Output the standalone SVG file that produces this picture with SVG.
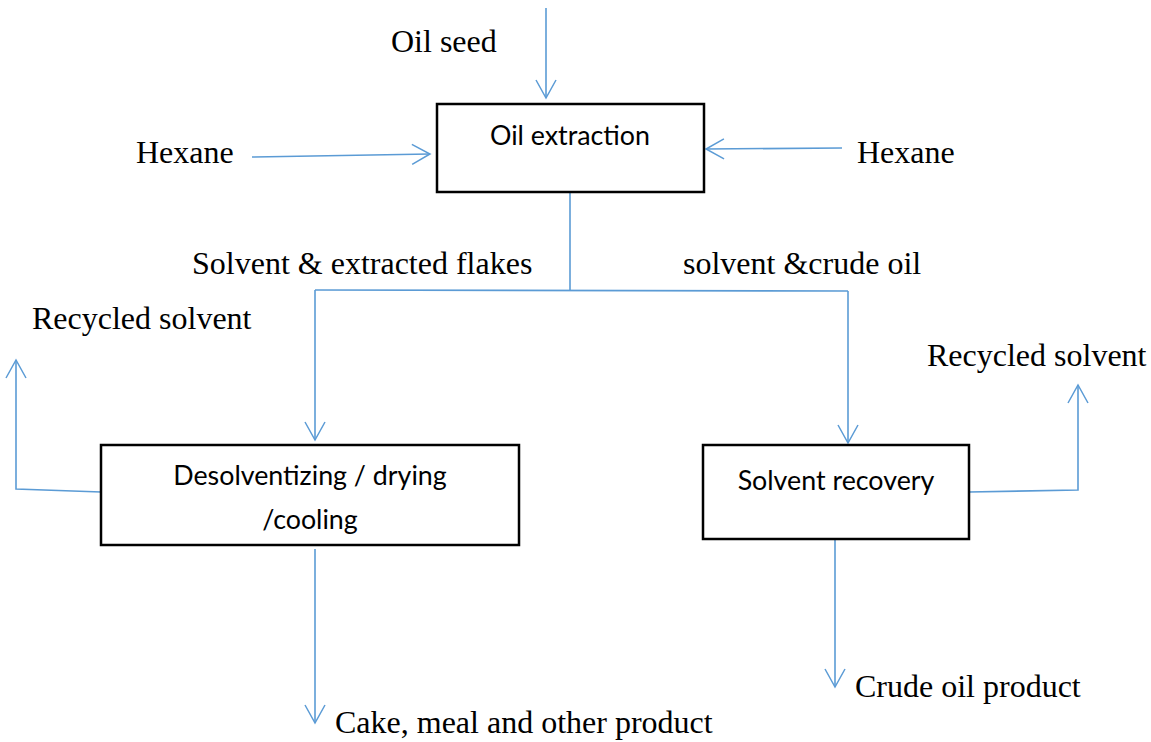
<svg xmlns="http://www.w3.org/2000/svg" width="1151" height="742" viewBox="0 0 1151 742">
<defs>
<marker id="arr" markerWidth="24" markerHeight="24" refX="20" refY="12" orient="auto" markerUnits="userSpaceOnUse">
<path d="M2,2 L20,12 L2,22" fill="none" stroke="#5B9BD5" stroke-width="1.5"/>
</marker>
<style>
.lbl{font-family:"Liberation Serif","Times New Roman",serif;font-size:32px;fill:#000}
.box{fill:#fff;stroke:#000;stroke-width:2.5}
.btx{font-family:Lato,"Liberation Sans",sans-serif;font-size:26.8px;fill:#000;text-anchor:middle}
.ln{fill:none;stroke:#5B9BD5;stroke-width:1.6}
</style>
</defs>
<rect width="1151" height="742" fill="#fff"/>
<g id="connectors">
<path class="ln" d="M546,8 L546,98" marker-end="url(#arr)"/>
<path class="ln" d="M252,157 L430,154" marker-end="url(#arr)"/>
<path class="ln" d="M842,148 L706,149" marker-end="url(#arr)"/>
<path class="ln" d="M570,193 L570,290"/>
<path class="ln" d="M315,290 L848,291"/>
<path class="ln" d="M315,290 L315,440" marker-end="url(#arr)"/>
<path class="ln" d="M848,291 L848,443" marker-end="url(#arr)"/>
<path class="ln" d="M101,492 L16,489 L16,360" marker-end="url(#arr)"/>
<path class="ln" d="M969,492 L1078,490 L1078,385" marker-end="url(#arr)"/>
<path class="ln" d="M315,549 L315,723" marker-end="url(#arr)"/>
<path class="ln" d="M835,540 L835,687" marker-end="url(#arr)"/>
</g>
<g id="n-extraction">
<rect class="box" x="437" y="104" width="267" height="88"/>
<text class="btx" x="570" y="145">Oil extraction</text>
</g>
<g id="n-desolv">
<rect class="box" x="101" y="445" width="418" height="100"/>
<text class="btx" x="310" y="485">Desolventizing / drying</text>
<text class="btx" x="310" y="529">/cooling</text>
</g>
<g id="n-recovery">
<rect class="box" x="703" y="445" width="266" height="94"/>
<text class="btx" x="836" y="490">Solvent recovery</text>
</g>
<g id="labels">
<text class="lbl" x="391" y="52">Oil seed</text>
<text class="lbl" x="136" y="163">Hexane</text>
<text class="lbl" x="857" y="163">Hexane</text>
<text class="lbl" x="192" y="274">Solvent &amp; extracted flakes</text>
<text class="lbl" x="683" y="274">solvent &amp;crude oil</text>
<text class="lbl" x="32" y="329">Recycled solvent</text>
<text class="lbl" x="927" y="366">Recycled solvent</text>
<text class="lbl" x="335" y="733">Cake, meal and other product</text>
<text class="lbl" x="855" y="697">Crude oil product</text>
</g>
</svg>
